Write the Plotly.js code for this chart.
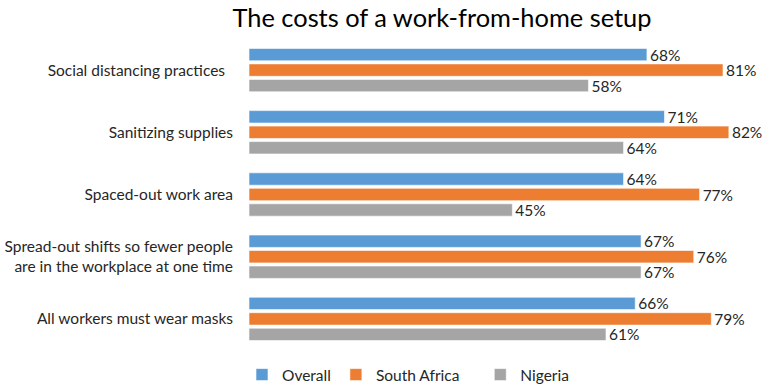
<!DOCTYPE html>
<html>
<head>
<meta charset="utf-8">
<script src="https://cdn.plot.ly/plotly-3.0.1.min.js"></script>
<style>
  html, body { margin: 0; padding: 0; background: #fff; }
  #chart { width: 768px; height: 387px; }
</style>
</head>
<body>
<div id="chart"></div>
<script>
const categories = [
  "Social distancing practices\u00a0\u00a0",
  "Sanitizing supplies",
  "Spaced-out work area",
  "Spread-out shifts so fewer people<br>are in the workplace at one time",
  "All workers must wear masks"
];
const seriesNames = ["Overall", "South Africa\u00a0\u00a0\u00a0\u00a0", "Nigeria"];
const overall = [68, 71, 64, 67, 66];
const southAfrica = [81, 82, 77, 76, 79];
const nigeria = [58, 64, 45, 67, 61];
const colors = ["#5B9BD5", "#ED7D31", "#A5A5A5"];

const FONT = "Lato, 'Open Sans', sans-serif";
const seriesValues = [overall, southAfrica, nigeria];

const traces = seriesValues.map((vals, i) => ({
  type: "bar",
  orientation: "h",
  name: seriesNames[i],
  y: categories,
  x: vals,
  marker: { color: colors[i], line: { color: "#ffffff", width: 0.6 } },
  text: vals.map(v => v + "%"),
  textposition: "outside",
  constraintext: "none",
  textfont: { family: FONT, size: 15.5, color: "#262626" },
  cliponaxis: false,
  hoverinfo: "skip"
}));

const layout = {
  width: 768,
  height: 387,
  paper_bgcolor: "#ffffff",
  plot_bgcolor: "#ffffff",
  font: { family: FONT, color: "#262626" },
  margin: { l: 249, r: 4, t: 39, b: 37, pad: 0 },
  title: {
    text: "The costs of a work-from-home setup",
    font: { family: FONT, size: 25.4, color: "#000000" },
    x: 442 / 768,
    xref: "container",
    xanchor: "center",
    y: 1 - 18 / 387,
    yref: "container",
    yanchor: "middle"
  },
  barmode: "group",
  bargap: 0.253,
  bargroupgap: 0.2,
  xaxis: {
    range: [0, 88],
    visible: false,
    fixedrange: true
  },
  yaxis: {
    type: "category",
    autorange: "reversed",
    showline: false,
    showgrid: false,
    zeroline: false,
    ticks: "",
    ticklabelstandoff: 15,
    tickfont: { family: FONT, size: 15.5, color: "#262626" },
    fixedrange: true
  },
  showlegend: true,
  legend: {
    orientation: "h",
    xref: "container",
    yref: "container",
    x: 242 / 768,
    xanchor: "left",
    y: 12 / 387,
    yanchor: "middle",
    font: { family: FONT, size: 15.5, color: "#262626" },
    traceorder: "normal"
  }
};

Plotly.newPlot("chart", traces, layout, { staticPlot: true, displayModeBar: false });
</script>
</body>
</html>
